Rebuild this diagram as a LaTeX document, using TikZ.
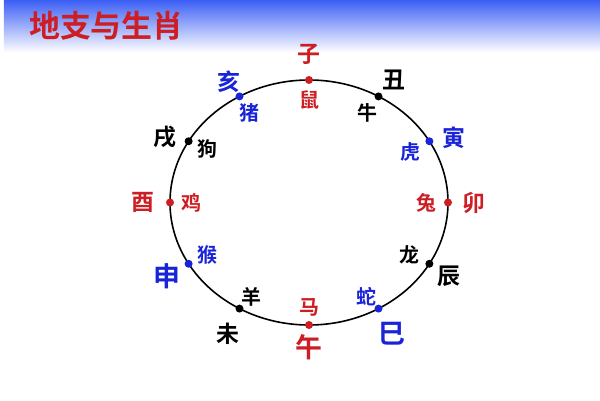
\documentclass[tikz,border=0pt]{standalone}
\usepackage{fontspec}
\newfontfamily\cjk{Noto Sans CJK SC}[BoldFont={Noto Sans CJK SC Bold}]
\definecolor{zred}{RGB}{205,30,35}
\definecolor{zblue}{RGB}{25,35,215}
\definecolor{banner}{RGB}{60,95,245}

\begin{document}
\begin{tikzpicture}[x=1bp, y=1bp,
  dot/.style={circle, fill, inner sep=0pt, minimum size=8bp},
  branch/.style={inner sep=0pt, font=\cjk\bfseries\fontsize{23}{23}\selectfont},
  bigbranch/.style={branch, font=\cjk\bfseries\fontsize{27}{27}\selectfont},
  animal/.style={inner sep=0pt, font=\cjk\bfseries\fontsize{20}{20}\selectfont},
  title/.style={inner sep=0pt, anchor=west, text=zred, font=\cjk\bfseries\fontsize{31}{31}\selectfont}]

\useasboundingbox[fill=white] (-309,-197.5) rectangle (291,202.5);
\shade[top color=banner, bottom color=white] (-305,150) rectangle (291,202.5);
\node[title] (title) at (-280,177) {地支与生肖};

\draw[line width=1.6bp] (0,0) ellipse [x radius=139, y radius=122.5];

% dots, branches outside, animals inside
\foreach \n/\i/\b/\bs/\ani/\col/\ox/\oy/\ix/\iy in {
  zi/0/子/branch/鼠/zred/0/26/0/-20,
  chou/1/丑/branch/牛/black/15/16/-11/-17,
  yin/2/寅/branch/虎/zblue/25/4/-19/-11,
  mao/3/卯/branch/兔/zred/26/0/-22/0,
  chen/4/辰/branch/龙/black/20/-13/-20/9,
  si/5/巳/bigbranch/蛇/zblue/13/-25/-12/12,
  wu/6/午/bigbranch/马/zred/0/-22/0/18,
  wei/7/未/branch/羊/black/-12/-25/12/12,
  shen/8/申/bigbranch/猴/zblue/-22/-13/19/9,
  you/9/酉/branch/鸡/zred/-27/0/21/0,
  xu/10/戌/branch/狗/black/-24/4/19/-8,
  hai/11/亥/branch/猪/zblue/-11/15/10/-17}{
  \node[dot, color=\col] (\n) at ({139*cos(90-30*\i)},{122.5*sin(90-30*\i)}) {};
  \node[\bs, text=\col] (\n-b) at ([shift={(\ox,\oy)}]\n) {\b};
  \node[animal, text=\col] (\n-a) at ([shift={(\ix,\iy)}]\n) {\ani};
}
\end{tikzpicture}
\end{document}
